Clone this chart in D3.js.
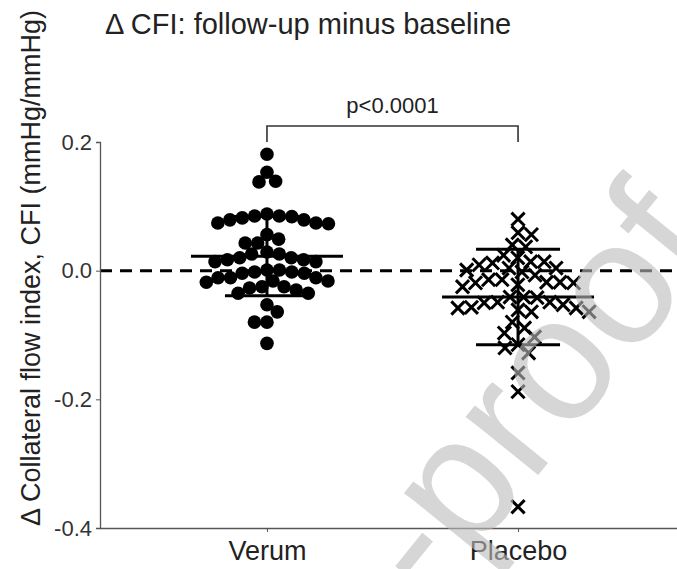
<!DOCTYPE html>
<meta charset="utf-8">
<style>
  body { margin: 0; background: #fff; }
  text { font-family: "Liberation Sans", Arial, sans-serif; }
</style>
<script src="https://d3js.org/d3.v7.min.js"></script>
<div id="chart"></div>
<script>
  // groups and the read-off values (delta CFI, mmHg/mmHg)
  var groups = ["Verum", "Placebo"];
  var verum = [0.181, 0.153, 0.139, 0.138,
    0.074, 0.073, 0.084, 0.085, 0.079, 0.085, 0.079, 0.082, 0.088, 0.074,
    0.043, 0.043, 0.049, 0.056,
    0.014, 0.017, 0.026, 0.017, 0.014, 0.029, 0.020, 0.020, 0.026,
    -0.004, -0.011, -0.011, -0.016, -0.004, -0.018, -0.002, 0.001, 0.001, -0.002, -0.016,
    -0.027, -0.025, -0.011, -0.025, -0.030, -0.035, -0.035,
    -0.053, -0.064, -0.080, -0.080, -0.113];
  var placebo = [0.080, 0.059, 0.056, 0.040, 0.037, 0.024, 0.020, 0.014, 0.014, 0.012,
    0.009, 0.004, 0.004, 0.001, -0.002, -0.007, -0.014, -0.014, -0.018, -0.018,
    -0.019, -0.019, -0.025, -0.022, -0.041, -0.042, -0.041, -0.049, -0.049, -0.053,
    -0.057, -0.058, -0.058, -0.061, -0.064, -0.050, -0.064, -0.080, -0.089, -0.097,
    -0.103, -0.115, -0.120, -0.128, -0.159, -0.188, -0.367];
  var yTicks = [0.2, 0.0, -0.2, -0.4];
  var pLabel = "p<0.0001";

  var width = 677, height = 569;
  var svg = d3.select("#chart").append("svg")
    .attr("width", width)
    .attr("height", height);

  var x = d3.scalePoint()
    .domain(groups)
    .range([100, 685])
    .padding(0.665);

  var y = d3.scaleLinear()
    .domain([-0.4, 0.2])
    .range([528, 142]);

  // title
  svg.append("text")
    .attr("x", 105)
    .attr("y", 34)
    .style("font-size", "29px")
    .attr("fill", "#222")
    .text("\u0394 CFI: follow-up minus baseline");

  // y label
  svg.append("text")
    .attr("transform", "rotate(-90)")
    .attr("x", -268)
    .attr("y", 40)
    .style("text-anchor", "middle")
    .style("font-size", "27px")
    .attr("fill", "#222")
    .text("\u0394 Collateral flow index, CFI (mmHg/mmHg)");

  // zero line
  svg.append("line")
    .attr("x1", 100).attr("x2", width)
    .attr("y1", y(0)).attr("y2", y(0))
    .attr("stroke", "#000")
    .attr("stroke-width", 3)
    .attr("stroke-dasharray", "12,8");

  // axes
  var yAxis = svg.append("g")
    .attr("transform", "translate(100,0)")
    .call(d3.axisLeft(y).tickValues(yTicks).tickSize(4).tickPadding(4)
      .tickFormat(function (d) { return d.toFixed(1); }));
  yAxis.select(".domain").attr("stroke", "#555").attr("stroke-width", 1.3);
  yAxis.selectAll(".tick line").attr("stroke", "#555");
  yAxis.selectAll(".tick text").style("font-size", "22px").attr("fill", "#333")
    .attr("font-family", null);

  var xAxis = svg.append("g")
    .attr("transform", "translate(0," + y(-0.4) + ")")
    .call(d3.axisBottom(x).tickSize(4).tickSizeOuter(0).tickPadding(9));
  xAxis.select(".domain").attr("stroke", "#555").attr("stroke-width", 1.3);
  xAxis.selectAll(".tick line").attr("stroke", "#555");
  xAxis.selectAll(".tick text").style("font-size", "27px").attr("fill", "#222")
    .attr("font-family", null);

  // simple beeswarm: place each point as close to the centre as it can go
  function swarm(values, diam) {
    var pts = values.map(function (v) { return { v: v, py: y(v) }; })
      .sort(function (a, b) { return a.py - b.py; });
    var placed = [];
    pts.forEach(function (p) {
      var blocked = [];
      placed.forEach(function (q) {
        var dy = Math.abs(q.py - p.py);
        if (dy < diam) {
          var w = Math.sqrt(diam * diam - dy * dy);
          blocked.push([q.dx - w, q.dx + w]);
        }
      });
      var cands = [0];
      blocked.forEach(function (b) { cands.push(b[0], b[1]); });
      cands.sort(function (a, b) { return Math.abs(a) - Math.abs(b) || b - a; });
      p.dx = cands.find(function (c) {
        return blocked.every(function (b) { return c <= b[0] + 1e-6 || c >= b[1] - 1e-6; });
      });
      placed.push(p);
    });
    return pts;
  }

  var vPts = swarm(verum, 12.5);
  var pPts = swarm(placebo, 13.5);

  svg.append("g").selectAll("circle")
    .data(vPts)
    .enter()
    .append("circle")
    .attr("cx", function (d) { return x("Verum") + d.dx; })
    .attr("cy", function (d) { return d.py; })
    .attr("r", 6.8)
    .attr("fill", "#000");

  var times = d3.symbol().type(d3.symbolTimes).size(115);
  svg.append("g").selectAll("path")
    .data(pPts)
    .enter()
    .append("path")
    .attr("d", times)
    .attr("transform", function (d) {
      return "translate(" + (x("Placebo") + d.dx) + "," + d.py + ")";
    })
    .attr("fill", "none")
    .attr("stroke", "#000")
    .attr("stroke-width", 3);

  // mean and SD bars
  [["Verum", verum], ["Placebo", placebo]].forEach(function (g) {
    var cx = x(g[0]);
    var m = d3.mean(g[1]), s = d3.deviation(g[1]);
    var bar = svg.append("g").attr("stroke", "#000").attr("stroke-width", 3);
    bar.append("line").attr("x1", cx - 76).attr("x2", cx + 76)
      .attr("y1", y(m)).attr("y2", y(m));
    bar.append("line").attr("x1", cx).attr("x2", cx)
      .attr("y1", y(m + s)).attr("y2", y(m - s));
    [m + s, m - s].forEach(function (v) {
      bar.append("line").attr("x1", cx - 42).attr("x2", cx + 42)
        .attr("y1", y(v)).attr("y2", y(v));
    });
  });

  // significance bracket
  svg.append("path")
    .attr("d", "M" + x("Verum") + ",142V126H" + x("Placebo") + "V142")
    .attr("fill", "none")
    .attr("stroke", "#333")
    .attr("stroke-width", 1.6);
  svg.append("text")
    .attr("x", (x("Verum") + x("Placebo")) / 2)
    .attr("y", 113)
    .style("text-anchor", "middle")
    .style("font-size", "22px")
    .attr("fill", "#222")
    .text(pLabel);

  // watermark
  svg.append("text")
    .attr("transform", "translate(432,606) rotate(-51)")
    .style("font-size", "176px")
    .attr("fill", "#bcbcbc")
    .attr("opacity", 0.6)
    .text("-proof");
</script>
